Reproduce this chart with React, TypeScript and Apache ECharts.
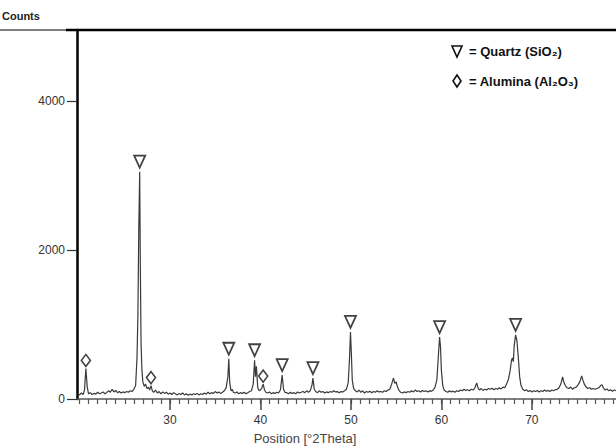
import React, { useEffect, useRef } from "react";
import * as echarts from "echarts";

// XRD pattern: [2Theta (deg), counts]
const pattern: [number, number][] = [
  [19.8, 70], [20.0, 55], [20.2, 80], [20.4, 60], [20.55, 120], [20.7, 410], [20.85, 160], [21.0, 70],
  [21.2, 85], [21.4, 60], [21.6, 75], [21.8, 65], [22.0, 90], [22.2, 70], [22.4, 80], [22.6, 95],
  [22.8, 70], [23.0, 85], [23.2, 110], [23.4, 90], [23.6, 130], [23.8, 95], [24.0, 115], [24.2, 85],
  [24.4, 100], [24.6, 80], [24.8, 95], [25.0, 85], [25.2, 100], [25.4, 90], [25.6, 110], [25.8, 100],
  [26.0, 130], [26.2, 180], [26.35, 550], [26.45, 1100], [26.55, 2300], [26.65, 3050], [26.72, 1800],
  [26.8, 750], [26.9, 380], [27.0, 230], [27.15, 170], [27.3, 200], [27.45, 140], [27.6, 160],
  [27.75, 120], [27.9, 180], [28.05, 110], [28.2, 90], [28.4, 120], [28.6, 80], [28.8, 100], [29.0, 70],
  [29.2, 95], [29.4, 75], [29.6, 90], [29.8, 65], [30.0, 80], [30.2, 60], [30.4, 85], [30.6, 70],
  [30.8, 55], [31.0, 75], [31.2, 60], [31.4, 80], [31.6, 55], [31.8, 70], [32.0, 50], [32.2, 65],
  [32.4, 55], [32.6, 70], [32.8, 60], [33.0, 75], [33.2, 55], [33.4, 70], [33.6, 60], [33.8, 80],
  [34.0, 65], [34.2, 90], [34.4, 70], [34.6, 85], [34.8, 75], [35.0, 100], [35.2, 80], [35.4, 95],
  [35.6, 75], [35.8, 90], [36.0, 110], [36.2, 150], [36.4, 300], [36.5, 540], [36.6, 220], [36.75, 110],
  [36.9, 130], [37.0, 90], [37.2, 80], [37.4, 95], [37.6, 70], [37.8, 85], [38.0, 75], [38.2, 90],
  [38.4, 70], [38.6, 85], [38.8, 100], [39.0, 110], [39.2, 200], [39.35, 520], [39.45, 300], [39.55, 440],
  [39.7, 150], [39.85, 110], [40.0, 120], [40.15, 150], [40.3, 200], [40.45, 120], [40.6, 90], [40.8, 80],
  [41.0, 95], [41.2, 70], [41.4, 85], [41.6, 75], [41.8, 90], [42.0, 80], [42.2, 120], [42.4, 320],
  [42.55, 130], [42.7, 90], [42.9, 85], [43.1, 70], [43.3, 90], [43.5, 75], [43.7, 85], [43.9, 70],
  [44.1, 95], [44.3, 80], [44.5, 90], [44.7, 100], [44.9, 85], [45.1, 110], [45.3, 90], [45.5, 110],
  [45.7, 190], [45.8, 280], [45.95, 130], [46.1, 100], [46.3, 85], [46.5, 110], [46.7, 90], [46.9, 100],
  [47.1, 80], [47.3, 95], [47.5, 85], [47.7, 100], [47.9, 90], [48.1, 110], [48.3, 95], [48.5, 100],
  [48.7, 85], [48.9, 100], [49.1, 95], [49.3, 110], [49.5, 130], [49.7, 220], [49.85, 560], [49.95, 900],
  [50.05, 600], [50.15, 250], [50.3, 140], [50.5, 110], [50.7, 95], [50.9, 120], [51.1, 90], [51.3, 110],
  [51.5, 80], [51.7, 100], [51.9, 90], [52.1, 105], [52.3, 85], [52.5, 100], [52.7, 90], [52.9, 110],
  [53.1, 95], [53.3, 100], [53.5, 90], [53.7, 110], [53.9, 100], [54.1, 120], [54.3, 130], [54.5, 200],
  [54.7, 280], [54.85, 210], [55.0, 230], [55.15, 160], [55.3, 120], [55.5, 90], [55.7, 80], [55.9, 95],
  [56.1, 85], [56.3, 100], [56.5, 90], [56.7, 110], [56.9, 95], [57.1, 120], [57.3, 100], [57.5, 110],
  [57.7, 95], [57.9, 115], [58.1, 100], [58.3, 110], [58.5, 95], [58.7, 110], [58.9, 105], [59.1, 120],
  [59.3, 160], [59.5, 260], [59.65, 550], [59.8, 830], [59.9, 700], [60.0, 380], [60.15, 180], [60.3, 120],
  [60.5, 100], [60.7, 90], [60.9, 110], [61.1, 95], [61.3, 105], [61.5, 90], [61.7, 110], [61.9, 100],
  [62.1, 120], [62.3, 110], [62.5, 130], [62.7, 115], [62.9, 125], [63.1, 110], [63.3, 130], [63.5, 120],
  [63.7, 150], [63.9, 215], [64.05, 150], [64.2, 120], [64.4, 140], [64.6, 115], [64.8, 130], [65.0, 120],
  [65.2, 140], [65.4, 130], [65.6, 145], [65.8, 125], [66.0, 140], [66.2, 130], [66.4, 150], [66.6, 135],
  [66.8, 160], [67.0, 150], [67.2, 200], [67.4, 260], [67.6, 380], [67.75, 520], [67.85, 550], [67.95, 500],
  [68.05, 720], [68.2, 860], [68.35, 780], [68.5, 560], [68.65, 300], [68.8, 180], [69.0, 130], [69.2, 110],
  [69.4, 125], [69.6, 100], [69.8, 115], [70.0, 95], [70.2, 110], [70.4, 100], [70.6, 115], [70.8, 95],
  [71.0, 110], [71.2, 100], [71.4, 120], [71.6, 105], [71.8, 115], [72.0, 100], [72.2, 120], [72.4, 110],
  [72.6, 125], [72.8, 130], [73.0, 150], [73.2, 200], [73.4, 295], [73.55, 220], [73.7, 180], [73.9, 150],
  [74.1, 140], [74.3, 160], [74.5, 130], [74.7, 150], [74.9, 160], [75.1, 190], [75.3, 230], [75.5, 310],
  [75.65, 250], [75.8, 200], [76.0, 160], [76.2, 140], [76.4, 150], [76.6, 130], [76.8, 140], [77.0, 130],
  [77.2, 140], [77.4, 150], [77.6, 180], [77.75, 190], [77.9, 150], [78.1, 120], [78.3, 135], [78.5, 110],
  [78.7, 125], [78.9, 105], [79.1, 120], [79.3, 110],
];

const quartzAngles = [26.65, 36.5, 39.35, 42.4, 45.8, 49.95, 59.8, 68.2];
const quartzPeaks = [3050, 540, 520, 320, 280, 900, 830, 860];
const aluminaAngles = [20.7, 27.9, 40.3];
const aluminaPeaks = [410, 180, 200];

const xTickLabels = [30, 40, 50, 60, 70];
const yTickLabels = [0, 2000, 4000];
const xMinorTicks = [
  20, 21, 22, 23, 24, 25, 26, 27, 28, 29, 30, 31, 32, 33, 34, 35, 36, 37, 38, 39, 40, 41, 42, 43, 44,
  45, 46, 47, 48, 49, 50, 51, 52, 53, 54, 55, 56, 57, 58, 59, 60, 61, 62, 63, 64, 65, 66, 67, 68, 69,
  70, 71, 72, 73, 74, 75, 76, 77, 78, 79,
];

const FONT = "'Liberation Sans', Arial, sans-serif";
const X_MIN = 19.72;
const X_MAX = 79.3;

export default function App() {
  const ref = useRef<HTMLDivElement>(null);
  useEffect(() => {
    const chart = echarts.init(ref.current!, null, { renderer: "svg" });
    chart.setOption({
      animation: false,
      backgroundColor: "#fff",
      grid: { left: 77, right: 0, top: 30, bottom: 49 },
      xAxis: [
        {
          type: "value",
          min: X_MIN,
          max: X_MAX,
          position: "bottom",
          axisLine: { lineStyle: { color: "#555", width: 1.5 } },
          axisTick: { customValues: xMinorTicks, length: 5, lineStyle: { color: "#555", width: 1.2 } },
          axisLabel: { customValues: xTickLabels, margin: 15, color: "#333", fontSize: 12, fontFamily: FONT },
          splitLine: { show: false },
        },
        {
          type: "value",
          min: X_MIN,
          max: X_MAX,
          position: "bottom",
          axisLine: { show: false },
          axisTick: { customValues: xTickLabels, length: 11, lineStyle: { color: "#444", width: 1.5 } },
          axisLabel: { show: false },
          splitLine: { show: false },
        },
      ],
      yAxis: {
        type: "value",
        min: 0,
        max: 4950,
        axisLine: { show: true, lineStyle: { color: "#000", width: 2.5 } },
        axisTick: { show: true, customValues: yTickLabels, length: 10, lineStyle: { color: "#333", width: 1.2 } },
        axisLabel: {
          customValues: yTickLabels,
          margin: 12,
          color: "#333",
          fontSize: 12,
          fontFamily: FONT,
          formatter: (v: number) => String(v),
        },
        splitLine: { show: false },
      },
      series: [
        {
          type: "line",
          data: pattern,
          showSymbol: false,
          lineStyle: { color: "#3a3a3a", width: 1.2 },
          z: 2,
        },
        {
          type: "scatter",
          data: quartzAngles.map((a, i) => [a, quartzPeaks[i]]),
          symbol: "path://M0,0L10,0L5,10Z",
          symbolSize: [11, 12],
          symbolOffset: [0, -10],
          itemStyle: { color: "#fff", borderColor: "#111", borderWidth: 1.8 },
          z: 5,
        },
        {
          type: "scatter",
          data: aluminaAngles.map((a, i) => [a, aluminaPeaks[i]]),
          symbol: "diamond",
          symbolSize: [9, 12],
          symbolOffset: [0, -8],
          itemStyle: { color: "#fff", borderColor: "#111", borderWidth: 1.6 },
          z: 5,
        },
      ],
      graphic: [
        { type: "line", shape: { x1: 0, y1: 30, x2: 616, y2: 30 }, style: { stroke: "#000", lineWidth: 1 }, z: 10 },
        { type: "line", shape: { x1: 66, y1: 30, x2: 616, y2: 30 }, style: { stroke: "#000", lineWidth: 2.5 }, z: 10 },
        {
          type: "text",
          left: 2,
          top: 10,
          style: { text: "Counts", fontSize: 11, fontWeight: "bold", fontFamily: FONT, fill: "#222" },
        },
        {
          type: "text",
          x: 305,
          y: 438,
          style: {
            text: "Position [°2Theta]",
            fontSize: 13,
            fontFamily: FONT,
            fill: "#444",
            align: "center",
            verticalAlign: "middle",
          },
        },
        {
          type: "polygon",
          shape: { points: [[452, 46], [462, 46], [457, 57]] },
          style: { fill: "#fff", stroke: "#111", lineWidth: 1.6 },
        },
        {
          type: "text",
          x: 469,
          y: 51,
          style: { text: "= Quartz (SiO₂)", fontSize: 13, fontWeight: "bold", fontFamily: FONT, fill: "#111", verticalAlign: "middle" },
        },
        {
          type: "polygon",
          shape: { points: [[457, 75], [461, 81], [457, 87], [453, 81]] },
          style: { fill: "#fff", stroke: "#111", lineWidth: 1.6 },
        },
        {
          type: "text",
          x: 469,
          y: 81,
          style: { text: "= Alumina (Al₂O₃)", fontSize: 13, fontWeight: "bold", fontFamily: FONT, fill: "#111", verticalAlign: "middle" },
        },
      ],
    });
    return () => chart.dispose();
  }, []);
  return (
    <div
      ref={ref}
      style={{ position: "fixed", left: 0, top: 0, width: 616, height: 448, background: "#fff" }}
    />
  );
}
